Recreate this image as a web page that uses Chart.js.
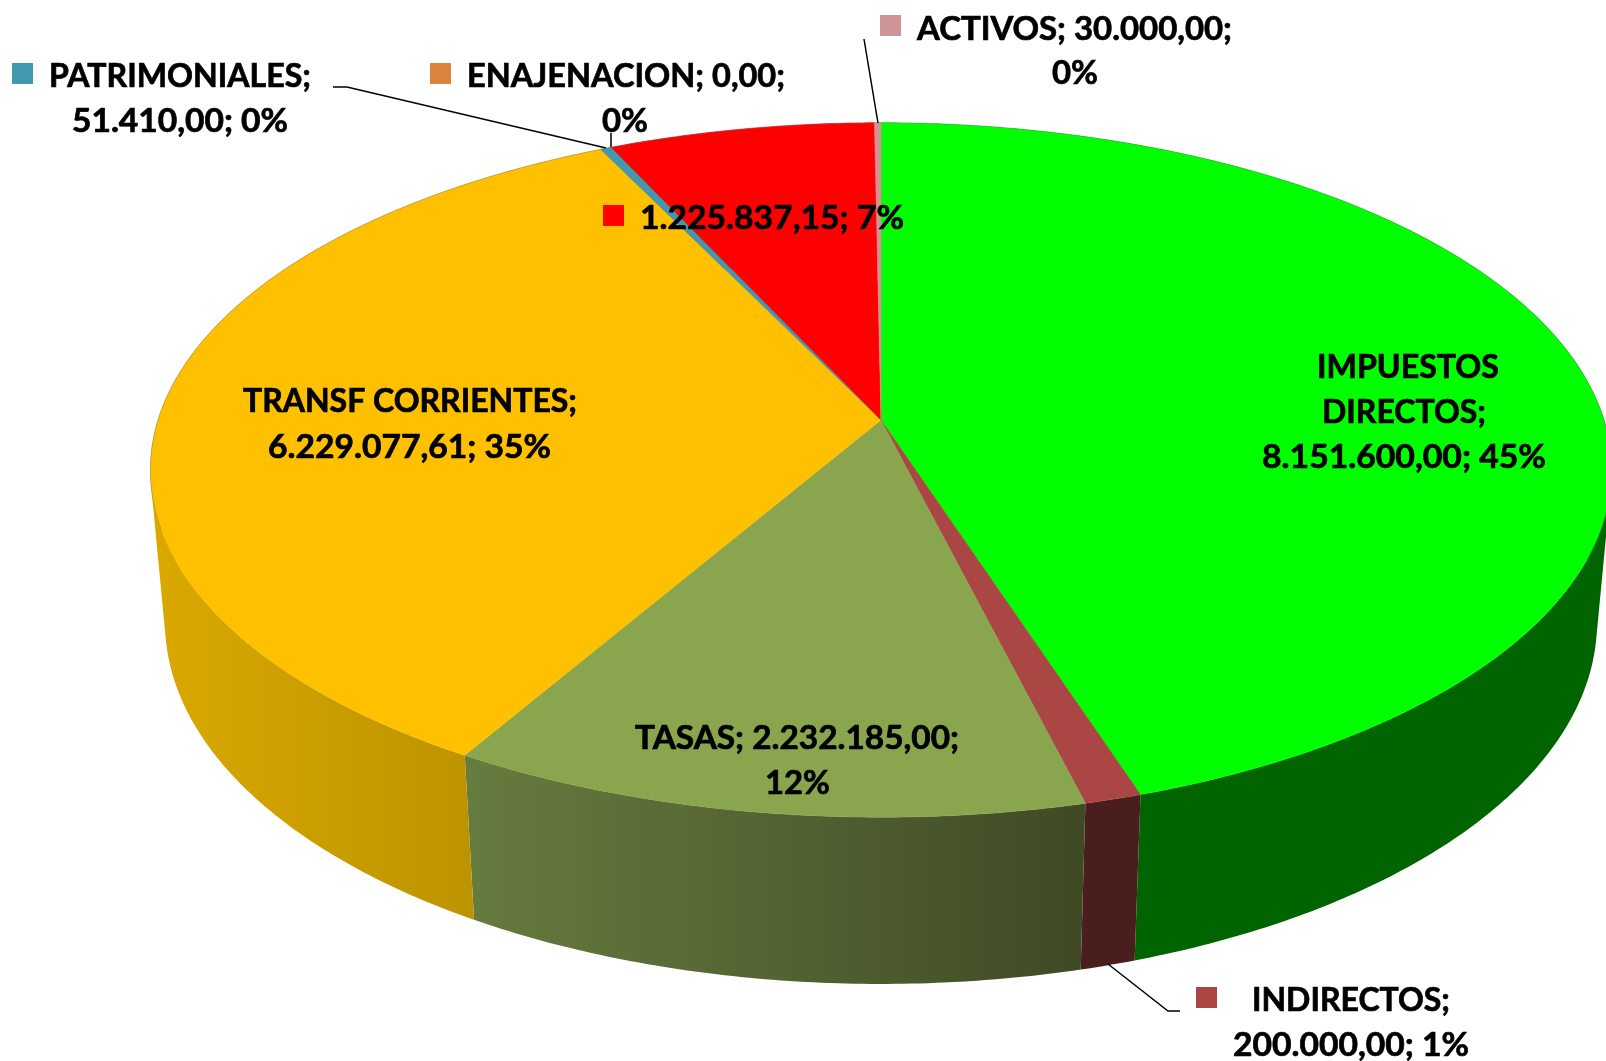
<!DOCTYPE html>
<html lang="es">
<head>
<meta charset="utf-8">
<title>Ingresos</title>
<script src="https://cdn.jsdelivr.net/npm/chart.js@4/dist/chart.umd.min.js"></script>
<style>
    html, body { margin: 0; padding: 0; background: #fff; overflow: hidden; }
    canvas { display: block; }
</style>
</head>
<body>
<canvas id="pieChart" width="1606" height="1061"></canvas>
<script>
// Chart data
const categories = ['IMPUESTOS DIRECTOS', 'INDIRECTOS', 'TASAS', 'TRANSF CORRIENTES', 'PATRIMONIALES', 'ENAJENACION', '', 'ACTIVOS'];
const values = [8151600.00, 200000.00, 2232185.00, 6229077.61, 51410.00, 0.00, 1225837.15, 30000.00];
const dataLabels = [
    ['IMPUESTOS', 'DIRECTOS;', '8.151.600,00; 45%'],
    ['INDIRECTOS;', '200.000,00; 1%'],
    ['TASAS; 2.232.185,00;', '12%'],
    ['TRANSF CORRIENTES;', '6.229.077,61; 35%'],
    ['PATRIMONIALES;', '51.410,00; 0%'],
    ['ENAJENACION; 0,00;', '0%'],
    ['1.225.837,15; 7%'],
    ['ACTIVOS; 30.000,00;', '0%']
];

// Colours of the top face and of the side wall (left and right end of the wall gradient)
const topColors = ['#00ff00', '#aa4643', '#89a54e', '#ffc000', '#4198af', '#db843d', '#ff0000', '#d09494'];
const wallLeft = ['#006400', '#4b1e1e', '#677c3f', '#daa800', '#26606f', '#8c5426', '#a00000', '#8c6060'];
const wallRight = ['#006400', '#4b1e1e', '#3f4a25', '#bd9400', '#26606f', '#8c5426', '#a00000', '#8c6060'];

// Perspective of the tilted pie, in pixels
const view = { cx: 881, cy: 420, rx: 723, ry: 340, tilt: 0.144, depth: 154, shrink: 0.02 };

// Label layout: [left, centre y, width] per text row, same order as dataLabels
const labelRows = [
    [[1317, 368, 182], [1322, 413, 164], [1262, 458, 284]],
    [[1252, 1001, 198], [1233, 1046, 236]],
    [[635, 739, 324], [765, 784, 65]],
    [[243, 402, 334], [268, 448, 283]],
    [[49, 77, 262], [72, 122, 216]],
    [[467, 77, 318], [602, 122, 46]],
    [[640, 219, 264]],
    [[917, 30, 315], [1052, 74, 46]]
];
const legendKeys = [null, [1196, 987], null, null, [12, 63], [430, 63], [603, 205], [880, 15]];
const leaderLines = [
    [[864, 39], [878, 123]],
    [[333, 87], [347, 87], [606, 148]],
    [[611, 133], [611, 147]],
    [[1108, 964], [1168, 1011], [1180, 1011]]
];

// Project a point of the unit pie (z 0 = top face, z 1 = bottom face) to the canvas
function project(angle, z) {
    const u = Math.cos(angle);
    const v = Math.sin(angle);
    const w = 1 - view.tilt * v + view.shrink * z;
    return {
        x: view.cx + view.rx * u / w,
        y: view.cy + (view.ry * v + view.depth * z) / w
    };
}

// Angles along an arc, about one every 0.01 radians
function rimAngles(from, to) {
    const steps = Math.max(2, Math.ceil(Math.abs(to - from) / 0.01));
    const angles = [];
    for (let i = 0; i <= steps; i++) angles.push(from + (to - from) * i / steps);
    return angles;
}

// Signed area of a quad, tells which way round it winds
function quadArea(q) {
    let sum = 0;
    q.forEach((p, i) => {
        const n = q[(i + 1) % q.length];
        sum += p.x * n.y - n.x * p.y;
    });
    return sum;
}

// All quads go in one path wound the same way, one outline would cancel itself at the silhouette
function drawWall(ctx, arc, index) {
    const angles = rimAngles(arc.startAngle, arc.endAngle);

    // Gradient runs over the part of the wall that faces the viewer
    const front = angles.filter(a => Math.sin(a) >= 0).map(a => project(a, 0).x);
    const xs = front.length ? front : angles.map(a => project(a, 0).x);
    const grad = ctx.createLinearGradient(Math.min(...xs), 0, Math.max(...xs), 0);
    grad.addColorStop(0, wallLeft[index]);
    grad.addColorStop(1, wallRight[index]);

    ctx.beginPath();
    for (let i = 0; i < angles.length - 1; i++) {
        const quad = [
            project(angles[i], 0),
            project(angles[i + 1], 0),
            project(angles[i + 1], 1),
            project(angles[i], 1)
        ];
        if (quadArea(quad) < 0) quad.reverse();
        ctx.moveTo(quad[0].x, quad[0].y);
        ctx.lineTo(quad[1].x, quad[1].y);
        ctx.lineTo(quad[2].x, quad[2].y);
        ctx.lineTo(quad[3].x, quad[3].y);
        ctx.closePath();
    }
    ctx.fillStyle = grad;
    ctx.fill();
}

function drawTop(ctx, arc, index) {
    ctx.beginPath();
    ctx.moveTo(view.cx, view.cy);
    rimAngles(arc.startAngle, arc.endAngle).forEach(a => {
        const p = project(a, 0);
        ctx.lineTo(p.x, p.y);
    });
    ctx.closePath();
    ctx.fillStyle = topColors[index];
    ctx.strokeStyle = topColors[index];
    ctx.lineWidth = 0.5;
    ctx.fill();
    ctx.stroke();
}

// Faint grey edge where the top face meets the white background
function drawBackEdge(ctx) {
    ctx.beginPath();
    rimAngles(Math.PI * 0.9, Math.PI * 2.1).forEach(a => {
        const p = project(a, 0);
        ctx.lineTo(p.x, p.y);
    });
    ctx.strokeStyle = 'rgba(120, 120, 120, 0.4)';
    ctx.lineWidth = 1;
    ctx.stroke();
}

// Draw one text row squeezed to the width it has in the picture
function drawRow(ctx, text, row) {
    const natural = ctx.measureText(text).width;
    ctx.save();
    ctx.translate(row[0], row[1]);
    ctx.scale(row[2] / natural, 1);
    ctx.fillText(text, 0, 0);
    ctx.strokeText(text, 0, 0);
    ctx.restore();
}

// The pie controller works out the angles, this plugin paints them in perspective
const pie3d = {
    id: 'pie3d',
    beforeDatasetDraw(chart, args) {
        const ctx = chart.ctx;
        const arcs = args.meta.data;
        ctx.save();
        arcs.forEach((arc, i) => {
            if (values[i] > 0) drawWall(ctx, arc, i);
        });
        arcs.forEach((arc, i) => {
            if (values[i] > 0) drawTop(ctx, arc, i);
        });
        drawBackEdge(ctx);
        ctx.restore();
        return false;
    },
    afterDraw(chart) {
        const ctx = chart.ctx;
        ctx.save();

        // Leader lines
        ctx.strokeStyle = '#000';
        ctx.lineWidth = 1.5;
        leaderLines.forEach(line => {
            ctx.beginPath();
            line.forEach(p => ctx.lineTo(p[0], p[1]));
            ctx.stroke();
        });

        // Legend keys
        legendKeys.forEach((key, i) => {
            if (!key) return;
            ctx.fillStyle = topColors[i];
            ctx.fillRect(key[0], key[1], 21, 21);
        });

        // Data labels
        ctx.fillStyle = '#000';
        ctx.strokeStyle = '#000';
        ctx.lineWidth = 0.7;
        ctx.font = 'bold 32px Lato';
        ctx.textAlign = 'left';
        ctx.textBaseline = 'middle';
        dataLabels.forEach((lines, i) => {
            lines.forEach((text, j) => drawRow(ctx, text, labelRows[i][j]));
        });
        ctx.restore();
    }
};

new Chart(document.getElementById('pieChart'), {
    type: 'pie',
    data: {
        labels: categories,
        datasets: [{ data: values, backgroundColor: topColors, borderWidth: 0 }]
    },
    options: {
        responsive: false,
        animation: false,
        plugins: {
            legend: { display: false },
            tooltip: { enabled: false }
        }
    },
    plugins: [pie3d]
});
</script>
</body>
</html>
